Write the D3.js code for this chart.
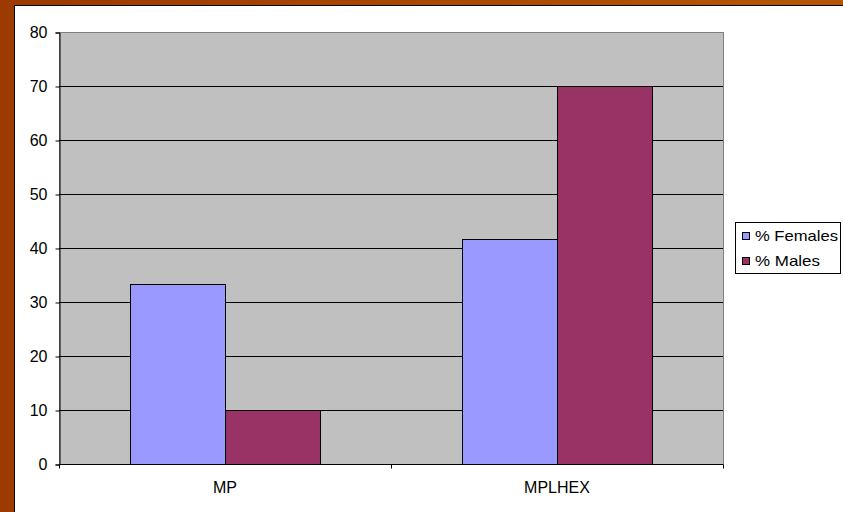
<!DOCTYPE html>
<html><head><meta charset="utf-8">
<script src="https://cdn.jsdelivr.net/npm/d3@7"></script>
<style>body{margin:0;padding:0;overflow:hidden;background:#fff}</style>
</head><body>
<svg id="c" width="843" height="512"></svg>
<script>
const categories = ["MP", "MPLHEX"];
const seriesNames = ["% Females", "% Males"];
const females = [33.3, 41.7];
const males = [10, 70];
const yTicks = [0, 10, 20, 30, 40, 50, 60, 70, 80];
const colors = ["#9999FF", "#993366"];

(function(){
const svg = d3.select("#c");
const W = 843, H = 512;
const FONT = "Liberation Sans, Arial, sans-serif";
const defs = svg.append("defs");
const g1 = defs.append("linearGradient").attr("id","tg").attr("x1","0").attr("x2","1");
g1.append("stop").attr("offset","0").attr("stop-color","#9c3a00");
g1.append("stop").attr("offset","1").attr("stop-color","#b35800");
svg.append("rect").attr("x",0).attr("y",0).attr("width",W).attr("height",H).attr("fill","url(#tg)");
svg.append("rect").attr("x",0).attr("y",0).attr("width",15).attr("height",H).attr("fill","#9c3a00");
svg.append("rect").attr("x",14).attr("y",5).attr("width",W).attr("height",H).attr("fill","#000");
svg.append("rect").attr("x",15).attr("y",6).attr("width",W).attr("height",H).attr("fill","#fff");

const pl = 59, pr = 723, pt = 32, pb = 464;
const x = d3.scaleBand().domain(categories).range([pl, pr]);
const barW = 95;
const y = d3.scaleLinear().domain([0, 80]).range([pb, pt]);

svg.append("rect").attr("x",pl+0.5).attr("y",pt+0.5).attr("width",pr-pl).attr("height",pb-pt)
  .attr("fill","#C0C0C0").attr("stroke","#808080").attr("stroke-width",1);

svg.append("g").selectAll("line").data(yTicks.filter(d=>d>0&&d<80)).join("line")
  .attr("x1",pl).attr("x2",pr).attr("y1",d=>y(d)+0.5).attr("y2",d=>y(d)+0.5)
  .attr("stroke","#000").attr("stroke-width",1);

const data = categories.map((c,i)=>({cat:c, vals:[females[i], males[i]]}));
const grp = svg.append("g");
data.forEach(d=>{
  const cx = x(d.cat) + x.bandwidth()/2;
  d.vals.forEach((v,j)=>{
    const bx = cx - barW + j*barW;
    grp.append("rect").attr("x",Math.round(bx)+0.5).attr("y",Math.round(y(v))+0.5)
      .attr("width",barW).attr("height",pb - Math.round(y(v)))
      .attr("fill",colors[j]).attr("stroke","#000").attr("stroke-width",1);
  });
});

const ya = d3.axisLeft(y).tickValues(yTicks).tickSize(4).tickPadding(8);
const yg = svg.append("g").attr("transform",`translate(${pl+0.5},0.5)`).call(ya);
yg.select(".domain").attr("stroke","#000");
yg.selectAll("text").attr("font-family",FONT).attr("font-size",16).attr("fill","#000");

const xa = d3.axisBottom(x).tickSize(0).tickPadding(17);
const xg = svg.append("g").attr("transform",`translate(0,${pb+0.5})`).call(xa);
xg.select(".domain").attr("stroke","#000").attr("d",`M${pl},0H${pr}`);
xg.selectAll("text").attr("font-family",FONT).attr("font-size",16).attr("fill","#000");
const bounds = [pl].concat(categories.map(c=>x(c)+x.bandwidth()));
xg.selectAll(".btick").data(bounds).join("line").attr("class","btick")
  .attr("x1",d=>Math.round(d)+0.5).attr("x2",d=>Math.round(d)+0.5).attr("y1",0).attr("y2",4).attr("stroke","#000");

const lg = svg.append("g").attr("transform","translate(735.5,222.5)");
lg.append("rect").attr("width",105).attr("height",51).attr("fill","#fff").attr("stroke","#000");
const lens = [83, 65];
seriesNames.forEach((s,i)=>{
  lg.append("rect").attr("x",7).attr("y",10+i*25).attr("width",7).attr("height",7)
    .attr("fill",colors[i]).attr("stroke","#000");
  lg.append("text").attr("x",19.5).attr("y",18.5+i*25).text(s)
    .attr("textLength",lens[i]).attr("lengthAdjust","spacingAndGlyphs")
    .attr("font-family",FONT).attr("font-size",15).attr("fill","#000");
});
})();
</script>
</body></html>
